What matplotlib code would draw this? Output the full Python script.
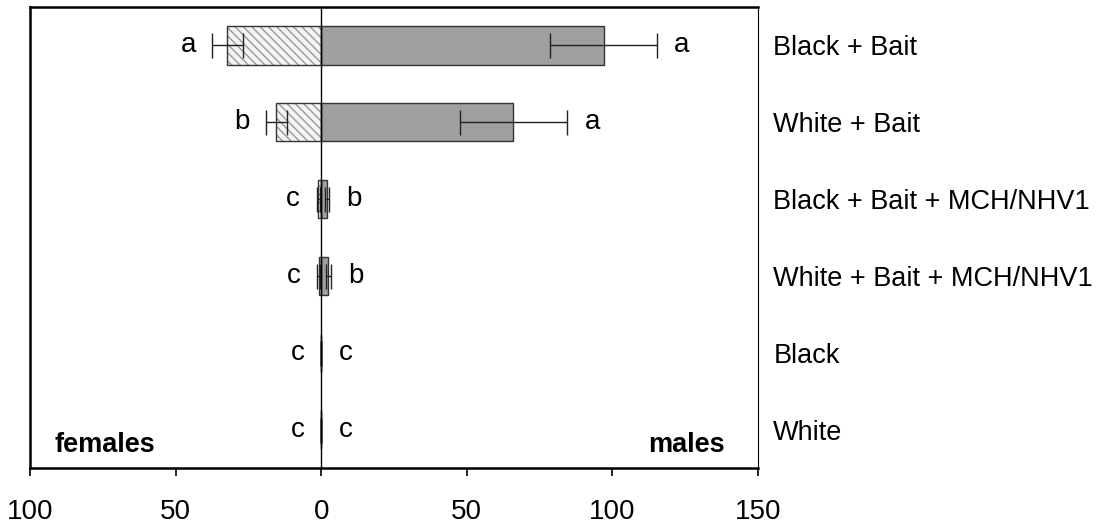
import matplotlib
matplotlib.use("Agg")
import matplotlib.pyplot as plt

plt.rcParams['font.family'] = ['Liberation Sans', 'DejaVu Sans']

categories = ['Black + Bait', 'White + Bait', 'Black + Bait + MCH/NHV1',
              'White + Bait + MCH/NHV1', 'Black', 'White']
females = [32.3, 15.4, 1.0, 0.8, 0.0, 0.0]
female_se = [5.3, 3.7, 0.5, 0.5, 0.0, 0.0]
males = [97.0, 66.0, 2.0, 2.4, 0.0, 0.0]
male_se = [18.3, 18.5, 0.8, 0.8, 0.0, 0.0]
female_letters = ['a', 'b', 'c', 'c', 'c', 'c']
male_letters = ['a', 'a', 'b', 'b', 'c', 'c']
xticks = [-100, -50, 0, 50, 100, 150]
xticklabels = ['100', '50', '0', '50', '100', '150']

fig = plt.figure(figsize=(10.99, 5.23), dpi=100)
ax = fig.add_axes([30/1099, 1 - 468/523, 728/1099, 461/523])

y = list(range(len(categories)))
neg_f = [-v for v in females]
h = 0.5

# female bars: hatched light
ax.barh(y, neg_f, height=h, color='#f4f4f4', edgecolor='#999999',
        hatch='\\\\\\\\', linewidth=0, zorder=2)
ax.barh(y, neg_f, height=h, fill=False, edgecolor='#333333', linewidth=1.0, zorder=3)
# male bars: gray
ax.barh(y, males, height=h, color='#a0a0a0', edgecolor='#333333', linewidth=1.0, zorder=2)

# error bars
ax.errorbar(neg_f, y, xerr=female_se, fmt='none', ecolor='#222222',
            elinewidth=1.0, capsize=9, capthick=1.0, zorder=4)
ax.errorbar(males, y, xerr=male_se, fmt='none', ecolor='#222222',
            elinewidth=1.0, capsize=9, capthick=1.0, zorder=4)

# zero line
ax.axvline(0, color='black', linewidth=1.0, zorder=5)

# letters
for i in y:
    ax.annotate(female_letters[i], xy=(-(females[i] + female_se[i]), i),
                xytext=(-17, 0), textcoords='offset points',
                ha='center', va='center', fontsize=20)
    ax.annotate(male_letters[i], xy=(males[i] + male_se[i], i),
                xytext=(18, 0), textcoords='offset points',
                ha='center', va='center', fontsize=20)

ax.set_xlim(-100, 150)
ax.set_ylim(len(categories) - 0.5, -0.5)
ax.set_xticks(xticks)
ax.set_xticklabels(xticklabels, fontsize=20)
ax.tick_params(axis='x', direction='out', length=6, width=1.2, pad=16)

ax.yaxis.tick_right()
ax.set_yticks(y)
ax.set_yticklabels(categories, fontsize=19.5)
ax.tick_params(axis='y', length=0, pad=11)

for s in ['left', 'top', 'bottom']:
    ax.spines[s].set_linewidth(1.8)
ax.spines['right'].set_linewidth(0.8)

ax.text(0.034, 0.035, 'females', transform=ax.transAxes, fontsize=19.5,
        fontweight='bold', ha='left', va='baseline')
ax.text(0.955, 0.035, 'males', transform=ax.transAxes, fontsize=19.5,
        fontweight='bold', ha='right', va='baseline')

fig.savefig('out.png', dpi=100)
